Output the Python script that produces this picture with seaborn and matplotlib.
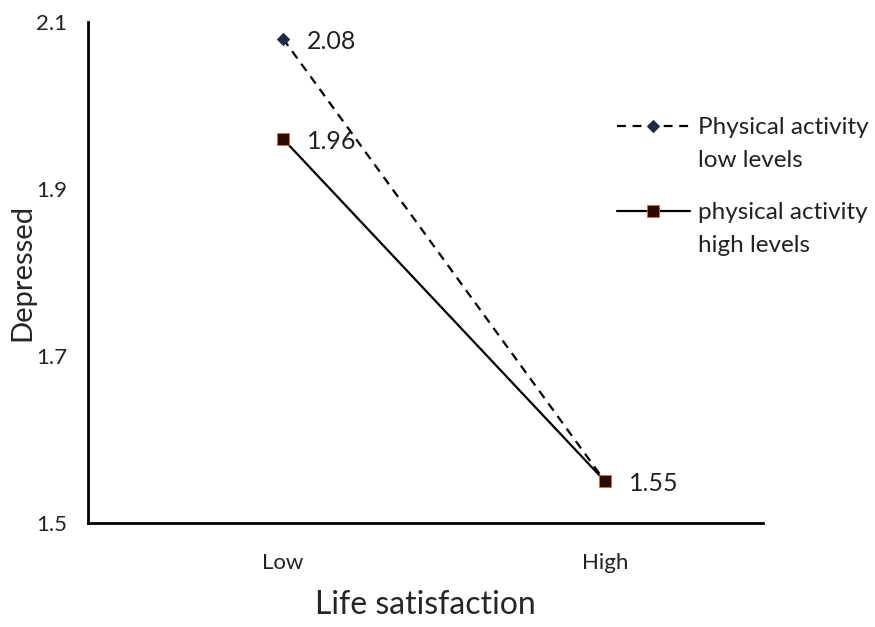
import pandas as pd
import matplotlib
matplotlib.use("Agg")
import matplotlib.pyplot as plt
import seaborn as sns
from matplotlib.legend_handler import HandlerLine2D

# data
satisfaction = ["Low", "High"]
low_activity = [2.08, 1.55]
high_activity = [1.96, 1.55]
series_names = ["Physical activity\nlow levels", "physical activity\nhigh levels"]
y_ticks = [1.5, 1.7, 1.9, 2.1]

sns.set_style("white")
plt.rcParams["font.family"] = ["Lato", "DejaVu Sans"]

df = pd.DataFrame({
    "satisfaction": satisfaction * 2,
    "depressed": low_activity + high_activity,
    "group": [series_names[0]] * 2 + [series_names[1]] * 2,
})


# legend handle sits level with the first line of the label
class TopLineHandler(HandlerLine2D):
    def create_artists(self, legend, orig_handle, xdescent, ydescent, width,
                       height, fontsize, trans):
        return super().create_artists(legend, orig_handle, xdescent, ydescent,
                                      width, height + 26, fontsize, trans)


fig = plt.figure(figsize=(8.75, 6.27), dpi=100)
ax = fig.add_axes([0.1006, 0.166, 0.771, 0.799])

sns.lineplot(data=df, x="satisfaction", y="depressed", hue="group", style="group",
             palette={series_names[0]: "black", series_names[1]: "black"},
             dashes={series_names[0]: (4, 3), series_names[1]: ""},
             markers={series_names[0]: "D", series_names[1]: "s"},
             markersize=9, linewidth=1.6, ax=ax, legend=False, sort=False)

# recolour the markers
lines = ax.get_lines()
lines[0].set_markerfacecolor("#1c2a48")
lines[0].set_markeredgecolor("#1c2a48")
lines[0].set_markersize(6.5)
lines[1].set_markerfacecolor("#2b0a04")
lines[1].set_markeredgecolor("#c8763a")
lines[1].set_markeredgewidth(0.6)

# value labels
for xi, yi in [(0, low_activity[0]), (0, high_activity[0]), (1, high_activity[1])]:
    ax.annotate(f"{yi:.2f}", (xi, yi), xytext=(17, -2), textcoords="offset points",
                va="center", ha="left", fontsize=18, color="#222222")

ax.set_xlim(-0.6056, 1.49)
ax.set_ylim(1.5, 2.1)
ax.set_yticks(y_ticks)
ax.set_yticklabels([f"{t:.1f}" for t in y_ticks])
ax.tick_params(axis="both", length=0, labelsize=16, colors="#222222")
ax.tick_params(axis="y", pad=15)
ax.tick_params(axis="x", pad=22)
ax.set_xlabel("Life satisfaction", fontsize=23, labelpad=12)
ax.set_ylabel("Depressed", fontsize=21)
ax.yaxis.set_label_coords(-0.078, 0.50)

for side in ["top", "right"]:
    ax.spines[side].set_visible(False)
for side in ["left", "bottom"]:
    ax.spines[side].set_color("black")
    ax.spines[side].set_linewidth(2)

leg = ax.legend(lines, series_names, loc="upper left",
                bbox_to_anchor=(617 / 875, 1 - 117 / 627), bbox_transform=fig.transFigure,
                frameon=False, fontsize=17.5, handlelength=3.0, labelspacing=1.3,
                handletextpad=0.35, borderpad=0, borderaxespad=0,
                handler_map={matplotlib.lines.Line2D: TopLineHandler()})
for t in leg.get_texts():
    t.set_linespacing(1.7)
    t.set_color("#222222")

fig.savefig("out.png", dpi=100)
